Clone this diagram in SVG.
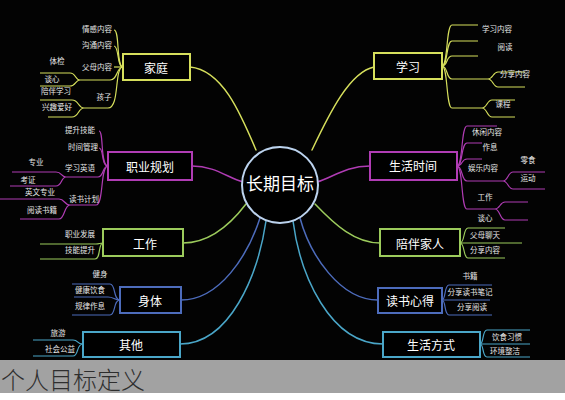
<svg xmlns="http://www.w3.org/2000/svg" width="565" height="400" viewBox="0 0 565 400">
<style>
.c{fill:none;stroke-width:1.5;stroke-linecap:round}
.s{fill:none;stroke-width:1.2}
.y{stroke:#d6df5c}.m{stroke:#b03cb4}.g{stroke:#9ccb5c}.b{stroke:#4d6cbc}.t{stroke:#4aa6c8}
.box{fill:#000;stroke-width:2}
.bt{font-family:"Noto Sans CJK SC","Noto Sans",sans-serif;font-size:12px;fill:#fff;text-anchor:middle;dominant-baseline:central}
.lt{font-family:"Noto Sans CJK SC","Noto Sans",sans-serif;font-size:7.5px;fill:#e6e6e6;text-anchor:middle;dominant-baseline:central}
</style>
<rect x="0" y="0" width="565" height="360" fill="#030303"/>
<g id="connectors">
<path class="c y" d="M190,67 C222,70 240,112 256,150"/>
<path class="c y" d="M374,67 C350,72 330,112 312,150"/>
<path class="c m" d="M192,166 C215,166 228,178 243,182"/>
<path class="c m" d="M370,166 C345,166 332,178 317,182"/>
<path class="c g" d="M183,243 C210,243 230,225 246,204"/>
<path class="c g" d="M380,243 C355,243 335,225 315,204"/>
<path class="c b" d="M181,300 C220,300 248,255 260,218"/>
<path class="c t" d="M180,344 C230,344 258,275 266,221"/>
<path class="c b" d="M378,300 C340,300 310,255 300,218"/>
<path class="c t" d="M383,344 C330,344 300,275 293,221"/>
<g class="s y">
<path d="M123,67 C116,67 120,30 114,30"/>
<path d="M123,67 C117,67 119,46 114,46"/>
<path d="M123,67 H114"/>
<path d="M123,67 C116,67 118,80 110,80 H80"/>
<path d="M123,67 C114,67 120,108 108,108 H84"/>
<path d="M80,80 C75,80 76,73 70,73 H40 M80,80 C75,80 76,86 70,86 H40"/>
<path d="M84,108 C78,108 79,100 72,100 H40 M84,108 C78,108 79,117 72,117 H48"/>
<path d="M442,66 C448,66 446,25 452,25 H478"/>
<path d="M442,66 C448,66 446,41 452,41 H478"/>
<path d="M442,66 C448,66 446,56 452,56 H478"/>
<path d="M442,66 C448,66 446,79 452,79 H488"/>
<path d="M442,66 C448,66 446,108 452,108 H482"/>
<path d="M488,79 C493,79 493,72 498,72 H525 M488,79 C493,79 493,87 498,87 H525"/>
<path d="M482,108 C487,108 487,100 492,100 H515 M482,108 C487,108 487,117 492,117 H515"/>
</g>
<g class="s m">
<path d="M108,166 C100,166 104,131 99,131"/>
<path d="M108,166 C101,166 104,148 99,148"/>
<path d="M108,166 C102,166 104,177 98,177 H66"/>
<path d="M108,166 C100,166 104,205 96,205 H70"/>
<path d="M66,177 C61,177 62,172 56,172 H12 M66,177 C61,177 62,186 56,186 H10"/>
<path d="M70,205 C64,205 65,199 59,199 H0 M70,205 C64,205 65,219 59,219 H20"/>
<path d="M457,166 C463,166 461,126 467,126 H497"/>
<path d="M457,166 C463,166 461,143 467,143 H482"/>
<path d="M457,166 C463,166 461,159 467,159 H482"/>
<path d="M457,166 C463,166 461,181 467,181 H503"/>
<path d="M457,166 C463,166 461,209 467,209 H495"/>
<path d="M503,181 C508,181 508,172 513,172 H545 M503,181 C508,181 508,189 513,189 H545"/>
<path d="M495,209 C500,209 500,202 505,202 H528 M495,209 C500,209 500,220 505,220 H528"/>
</g>
<g class="s g">
<path d="M103,243 C99,243 100,244 96,244 H40"/>
<path d="M103,243 C98,243 101,259 95,259 H40"/>
<path d="M460,243 C465,243 463,228 468,228 H505"/>
<path d="M460,243 H522"/>
<path d="M460,243 C465,243 463,258 468,258 H505"/>
</g>
<g class="s b">
<path d="M120,300 C113,300 116,284 110,284 H72"/>
<path d="M120,300 C114,300 114,297 108,297 H74"/>
<path d="M120,300 C113,300 116,315 110,315 H72"/>
<path d="M442,300 C446,300 444,285 449,285 H492"/>
<path d="M442,300 H490"/>
<path d="M442,300 C446,300 444,315 449,315 H492"/>
</g>
<g class="s t">
<path d="M83,344 C76,344 79,340 73,340 H33"/>
<path d="M83,344 C76,344 79,356 73,356 H33"/>
<path d="M480,344 C484,344 482,330 487,330 H530"/>
<path d="M480,344 H530"/>
<path d="M480,344 C484,344 482,357 487,357 H530"/>
</g>
</g>
<g id="center">
<circle cx="280" cy="185" r="38" fill="#000" stroke="#bcd3ee" stroke-width="2"/>
<text x="280" y="182" class="bt" style="font-size:17px">长期目标</text>
</g>
<g id="jiating">
<rect class="box y" x="123" y="54" width="67" height="26"/>
<text class="bt" x="156" y="67">家庭</text>
<text class="lt" x="97" y="28">情感内容</text>
<text class="lt" x="97" y="44">沟通内容</text>
<text class="lt" x="97" y="66">父母内容</text>
<text class="lt" x="57" y="60">体检</text>
<text class="lt" x="52" y="78">谈心</text>
<text class="lt" x="56" y="90">陪伴学习</text>
<text class="lt" x="104" y="96">孩子</text>
<text class="lt" x="57" y="106">兴趣爱好</text>
</g>
<g id="zhiye">
<rect class="box m" x="108" y="152" width="84" height="28"/>
<text class="bt" x="150" y="166">职业规划</text>
<text class="lt" x="80" y="129">提升技能</text>
<text class="lt" x="83" y="146">时间管理</text>
<text class="lt" x="80" y="167">学习英语</text>
<text class="lt" x="36" y="161">专业</text>
<text class="lt" x="28" y="179">考证</text>
<text class="lt" x="40" y="191">英文专业</text>
<text class="lt" x="84" y="198">读书计划</text>
<text class="lt" x="42" y="209">阅读书籍</text>
</g>
<g id="gongzuo">
<rect class="box g" x="103" y="229" width="80" height="27"/>
<text class="bt" x="145" y="243">工作</text>
<text class="lt" x="80" y="233">职业发展</text>
<text class="lt" x="80" y="249">技能提升</text>
</g>
<g id="shenti">
<rect class="box b" x="120" y="287" width="61" height="26"/>
<text class="bt" x="150" y="300">身体</text>
<text class="lt" x="100" y="273">健身</text>
<text class="lt" x="90" y="289">健康饮食</text>
<text class="lt" x="90" y="305">规律作息</text>
</g>
<g id="qita">
<rect class="box t" x="83" y="332" width="97" height="25"/>
<text class="bt" x="131" y="344">其他</text>
<text class="lt" x="58" y="332">旅游</text>
<text class="lt" x="60" y="348">社会公益</text>
</g>
<g id="xuexi">
<rect class="box y" x="374" y="53" width="68" height="26"/>
<text class="bt" x="408" y="66">学习</text>
<text class="lt" x="497" y="28">学习内容</text>
<text class="lt" x="505" y="46">阅读</text>
<text class="lt" x="515" y="73">分享内容</text>
<text class="lt" x="503" y="103">课程</text>
</g>
<g id="shenghuoshijian">
<rect class="box m" x="370" y="152" width="87" height="28"/>
<text class="bt" x="413" y="165">生活时间</text>
<text class="lt" x="487" y="131">休闲内容</text>
<text class="lt" x="490" y="146">作息</text>
<text class="lt" x="483" y="167">娱乐内容</text>
<text class="lt" x="528" y="159">零食</text>
<text class="lt" x="528" y="177">运动</text>
<text class="lt" x="485" y="196">工作</text>
<text class="lt" x="485" y="217">谈心</text>
</g>
<g id="peiban">
<rect class="box g" x="380" y="229" width="80" height="27"/>
<text class="bt" x="420" y="243">陪伴家人</text>
<text class="lt" x="485" y="234">父母聊天</text>
<text class="lt" x="485" y="249">分享内容</text>
</g>
<g id="dushu">
<rect class="box b" x="378" y="288" width="64" height="25"/>
<text class="bt" x="410" y="300">读书心得</text>
<text class="lt" x="470" y="275">书籍</text>
<text class="lt" x="470" y="291">分享读书笔记</text>
<text class="lt" x="472" y="306">分享阅读</text>
</g>
<g id="shenghuofangshi">
<rect class="box t" x="383" y="332" width="97" height="25"/>
<text class="bt" x="431" y="344">生活方式</text>
<text class="lt" x="507" y="336">饮食习惯</text>
<text class="lt" x="505" y="350">环境整洁</text>
</g>
<g id="caption">
<rect x="0" y="360" width="565" height="33" fill="#a2a2a2"/>
<rect x="0" y="393" width="565" height="7" fill="#fff"/>
<text x="1" y="389" font-family="Noto Sans CJK SC, Noto Sans, sans-serif" font-size="24" font-weight="300" fill="#2e2e2e">个人目标定义</text>
</g>
</svg>
